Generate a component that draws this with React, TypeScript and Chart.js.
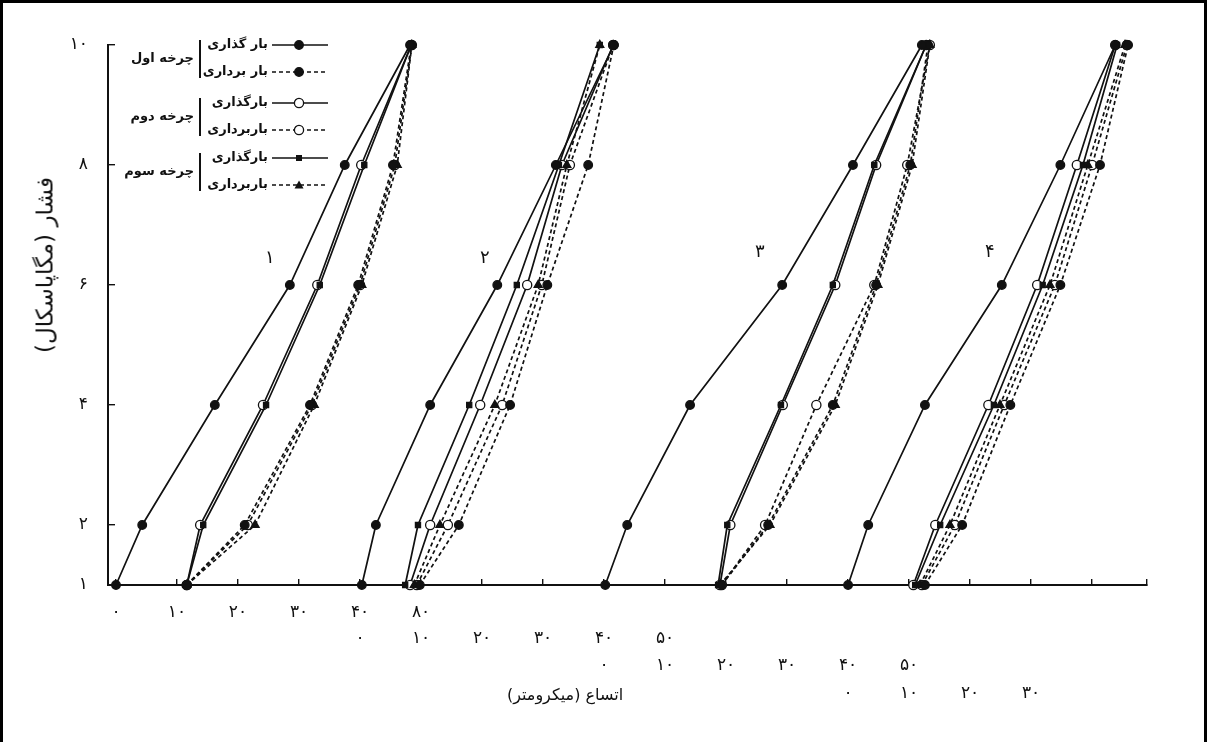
import React, { useEffect, useRef } from 'react';
import { Chart, registerables } from 'chart.js';

Chart.register(...registerables);

const W = 1207;
const H = 742;
const INK = '#111111';
const FONT = "'DejaVu Sans', 'Noto Sans', sans-serif";

// ---- y axis: pressure levels (MPa) ----
const pressures = [1, 2, 4, 6, 8, 10];
const yTicks = [1, 2, 4, 6, 8, 10];
const yTickLabels = ['۱', '۲', '۴', '۶', '۸', '۱۰'];

// ---- x axis: each specimen panel is shifted along a common expansion axis (µm) ----
const panelOffsets = [0, 40, 80, 120];
const gridTicks = [0, 10, 20, 30, 40, 50, 60, 70, 80, 90, 100, 110, 120, 130, 140, 150, 160, 169];
const row1Ticks = [0, 10, 20, 30, 40, 50];
const row1Labels = ['۰', '۱۰', '۲۰', '۳۰', '۴۰', '۸۰'];
const row2Ticks = [0, 10, 20, 30, 40, 50];
const row2Labels = ['۰', '۱۰', '۲۰', '۳۰', '۴۰', '۵۰'];
const row3Ticks = [0, 10, 20, 30, 40, 50];
const row3Labels = ['۰', '۱۰', '۲۰', '۳۰', '۴۰', '۵۰'];
const row4Ticks = [0, 10, 20, 30];
const row4Labels = ['۰', '۱۰', '۲۰', '۳۰'];

// ---- expansion (µm, panel-local) at each pressure level ----
// panel 1
const p1Load1 = [0, 4.3, 16.2, 28.5, 37.5, 48.2];
const p1Unload1 = [11.6, 21.1, 31.8, 39.7, 45.4, 48.4];
const p1Load2 = [11.6, 13.8, 24.1, 33.0, 40.2, 48.4];
const p1Unload2 = [11.6, 21.6, 32.1, 40.0, 45.7, 48.5];
const p1Load3 = [11.6, 14.3, 24.6, 33.4, 40.7, 48.4];
const p1Unload3 = [11.6, 22.8, 32.5, 40.3, 46.1, 48.5];
// panel 2
const p2Load1 = [0.3, 2.6, 11.5, 22.5, 32.1, 41.6];
const p2Unload1 = [9.8, 16.2, 24.6, 30.7, 37.4, 41.6];
const p2Load2 = [8.2, 11.5, 19.7, 27.4, 33.1, 41.5];
const p2Unload2 = [9.3, 14.4, 23.3, 29.8, 34.4, 41.5];
const p2Load3 = [7.4, 9.5, 17.9, 25.7, 32.6, 39.3];
const p2Unload3 = [8.9, 13.1, 22.1, 29.2, 33.9, 39.3];
// panel 3
const p3Load1 = [0.2, 3.8, 14.1, 29.2, 40.8, 52.1];
const p3Unload1 = [19.3, 26.9, 37.5, 44.6, 50.2, 53.1];
const p3Load2 = [19.0, 20.7, 29.3, 37.9, 44.6, 52.8];
const p3Unload2 = [19.3, 26.4, 34.8, 44.3, 49.7, 53.4];
const p3Load3 = [18.7, 20.2, 29.0, 37.5, 44.3, 52.8];
const p3Unload3 = [19.0, 27.2, 37.9, 44.9, 50.5, 53.4];
// panel 4
const p4Load1 = [0, 3.3, 12.6, 25.2, 34.8, 43.8];
const p4Unload1 = [12.6, 18.7, 26.6, 34.8, 41.3, 45.9];
const p4Load2 = [10.7, 14.3, 23.0, 31.0, 37.5, 43.8];
const p4Unload2 = [12.1, 17.5, 25.6, 33.9, 40.0, 45.7];
const p4Load3 = [11.0, 15.1, 23.9, 31.9, 38.5, 44.1];
const p4Unload3 = [11.8, 16.7, 24.9, 33.1, 39.3, 45.4];

const panelSeries = [
  [p1Load1, p1Unload1, p1Load2, p1Unload2, p1Load3, p1Unload3],
  [p2Load1, p2Unload1, p2Load2, p2Unload2, p2Load3, p2Unload3],
  [p3Load1, p3Unload1, p3Load2, p3Unload2, p3Load3, p3Unload3],
  [p4Load1, p4Unload1, p4Load2, p4Unload2, p4Load3, p4Unload3],
];

// legend / series texts
const cycleNames = ['چرخه اول', 'چرخه دوم', 'چرخه سوم'];
const seriesNames = ['بار گذاری', 'بار برداری', 'بارگذاری', 'باربرداری', 'بارگذاری', 'باربرداری'];
const panelNames = ['۱', '۲', '۳', '۴'];
const xTitle = 'اتساع (میکرومتر)';
const yTitle = 'فشار (مگاپاسکال)';

type Style = { dash: number[]; point: string; radius: number; fill: string; order: number };
const seriesStyles: Style[] = [
  { dash: [], point: 'circle', radius: 4.3, fill: INK, order: 1 },
  { dash: [4, 3], point: 'circle', radius: 4.3, fill: INK, order: 1 },
  { dash: [], point: 'circle', radius: 4.6, fill: '#ffffff', order: 2 },
  { dash: [4, 3], point: 'circle', radius: 4.6, fill: '#ffffff', order: 2 },
  { dash: [], point: 'rect', radius: 3.6, fill: INK, order: 1 },
  { dash: [4, 3], point: 'triangle', radius: 4.6, fill: INK, order: 1 },
];

// layout constants (pixels)
const X_MIN = -1.31;
const X_MAX = 169;

function mapLabel(values: number[], labels: string[], offset: number) {
  return (v: number | string) => {
    const i = values.findIndex((t) => Math.abs(t + offset - Number(v)) < 1e-6);
    return i >= 0 ? labels[i] : '';
  };
}

function LegendSymbol({ st }: { st: Style }) {
  const cx = 27;
  let marker: React.ReactNode = null;
  if (st.point === 'circle') {
    marker = <circle cx={cx} cy={7} r={st.radius} fill={st.fill} stroke={INK} strokeWidth={1.3} />;
  } else if (st.point === 'rect') {
    marker = <rect x={cx - 3} y={4} width={6} height={6} fill={INK} />;
  } else {
    marker = <polygon points={`${cx},2.5 ${cx + 4.5},10.5 ${cx - 4.5},10.5`} fill={INK} />;
  }
  return (
    <svg width={56} height={14} style={{ display: 'block' }}>
      <line x1={0} y1={7} x2={56} y2={7} stroke={INK} strokeWidth={1.6} strokeDasharray={st.dash.length ? '4 3' : undefined} />
      {marker}
    </svg>
  );
}

const legendRowY = [45, 72, 103, 130, 158, 185];
const legendGroupY = [59, 117, 172];
const panelLabelPos = [
  [270, 258],
  [485, 258],
  [760, 252],
  [990, 252],
];

export default function App() {
  const canvasRef = useRef<HTMLCanvasElement>(null);

  useEffect(() => {
    const canvas = canvasRef.current;
    if (!canvas) return;
    const datasets: any[] = [];
    panelSeries.forEach((series, pi) => {
      series.forEach((vals, si) => {
        const st = seriesStyles[si];
        datasets.push({
          label: `${panelNames[pi]} ${seriesNames[si]}`,
          data: vals.map((v, i) => ({ x: panelOffsets[pi] + v, y: pressures[i] })),
          borderColor: INK,
          borderWidth: 1.7,
          borderDash: st.dash,
          pointStyle: st.point,
          pointRadius: st.radius,
          pointBackgroundColor: st.fill,
          pointBorderColor: INK,
          pointBorderWidth: 1.3,
          fill: false,
          tension: 0,
          clip: false,
          order: st.order,
        });
      });
    });

    const tickFont = { family: FONT, size: 17 };
    const labelAxis = (weight: number, ticks: number[], labels: string[], offset: number, pad: number, h: number) => ({
      type: 'linear',
      position: 'bottom',
      weight,
      min: X_MIN,
      max: X_MAX,
      afterBuildTicks: (s: any) => {
        s.ticks = ticks.map((t) => ({ value: t + offset }));
      },
      afterFit: (s: any) => {
        s.height = h;
      },
      grid: { display: false, drawTicks: false, drawOnChartArea: false },
      border: { display: false },
      ticks: {
        autoSkip: false,
        maxRotation: 0,
        padding: pad,
        color: INK,
        font: tickFont,
        callback: mapLabel(ticks, labels, offset),
      },
    });

    const chart = new Chart(canvas, {
      type: 'line',
      data: { datasets },
      options: {
        animation: false,
        responsive: false,
        events: [],
        layout: { padding: { left: 0, top: 45, right: 60, bottom: 41 } },
        plugins: { legend: { display: false }, tooltip: { enabled: false }, title: { display: false } },
        scales: {
          x: {
            type: 'linear',
            position: 'bottom',
            weight: 0,
            min: X_MIN,
            max: X_MAX,
            afterBuildTicks: (s: any) => {
              s.ticks = gridTicks.map((t) => ({ value: t }));
            },
            afterFit: (s: any) => {
              s.height = 32;
            },
            grid: { drawOnChartArea: false, drawTicks: true, tickLength: -6, color: INK, lineWidth: 1.4 },
            border: { display: true, color: INK, width: 2 },
            ticks: {
              autoSkip: false,
              maxRotation: 0,
              padding: 23,
              color: INK,
              font: tickFont,
              callback: mapLabel(row1Ticks, row1Labels, panelOffsets[0]),
            },
          },
          x2: labelAxis(1, row2Ticks, row2Labels, panelOffsets[1], 11, 27),
          x3: labelAxis(2, row3Ticks, row3Labels, panelOffsets[2], 11, 27),
          x4: labelAxis(3, row4Ticks, row4Labels, panelOffsets[3], 12, 30),
          y: {
            type: 'linear',
            position: 'left',
            min: 1,
            max: 10,
            afterBuildTicks: (s: any) => {
              s.ticks = yTicks.map((t) => ({ value: t }));
            },
            afterFit: (s: any) => {
              s.width = 108;
            },
            grid: { drawOnChartArea: false, drawTicks: true, tickLength: -7, color: INK, lineWidth: 1.4 },
            border: { display: true, color: INK, width: 2 },
            ticks: {
              padding: 27,
              color: INK,
              font: tickFont,
              callback: (v: number | string) => {
                const i = yTicks.indexOf(Number(v));
                return i >= 0 ? yTickLabels[i] : '';
              },
            },
          },
        },
      } as any,
    });
    return () => chart.destroy();
  }, []);

  const textBase: React.CSSProperties = {
    position: 'absolute',
    fontFamily: FONT,
    color: INK,
    whiteSpace: 'nowrap',
    direction: 'rtl',
    lineHeight: 1,
  };

  return (
    <div style={{ position: 'absolute', left: 0, top: 0, width: W, height: H, background: '#fff', overflow: 'hidden' }}>
      <canvas ref={canvasRef} width={W} height={H} style={{ position: 'absolute', left: 0, top: 0 }} />

      {/* legend */}
      {seriesNames.map((name, i) => (
        <React.Fragment key={'lg' + i}>
          <div style={{ ...textBase, right: W - 268, top: legendRowY[i] - 8, fontSize: 13, fontWeight: 'bold' }}>{name}</div>
          <div style={{ position: 'absolute', left: 272, top: legendRowY[i] - 7 }}>
            <LegendSymbol st={seriesStyles[i]} />
          </div>
        </React.Fragment>
      ))}
      {cycleNames.map((name, i) => (
        <React.Fragment key={'cy' + i}>
          <div style={{ ...textBase, right: W - 194, top: legendGroupY[i] - 8, fontSize: 13, fontWeight: 'bold' }}>{name}</div>
          <div style={{ position: 'absolute', left: 199, top: legendGroupY[i] - 19, width: 2, height: 38, background: INK }} />
        </React.Fragment>
      ))}

      {/* panel numbers */}
      {panelNames.map((n, i) => (
        <div key={'pn' + i} style={{ ...textBase, left: panelLabelPos[i][0] - 5, top: panelLabelPos[i][1] - 10, fontSize: 18 }}>{n}</div>
      ))}

      {/* axis titles */}
      <div
        style={{
          ...textBase,
          left: 45,
          top: 265,
          fontSize: 23,
          transform: 'translate(-50%, -50%) rotate(-90deg)',
        }}
      >
        {yTitle}
      </div>
      <div style={{ ...textBase, left: 565, top: 695, fontSize: 16, transform: 'translate(-50%, -50%)' }}>{xTitle}</div>

      {/* frame */}
      <div
        style={{
          position: 'absolute',
          left: 0,
          top: 0,
          width: W,
          height: H,
          boxSizing: 'border-box',
          borderTop: '3px solid #000',
          borderLeft: '3px solid #000',
          borderRight: '3px solid #000',
          pointerEvents: 'none',
        }}
      />
    </div>
  );
}
